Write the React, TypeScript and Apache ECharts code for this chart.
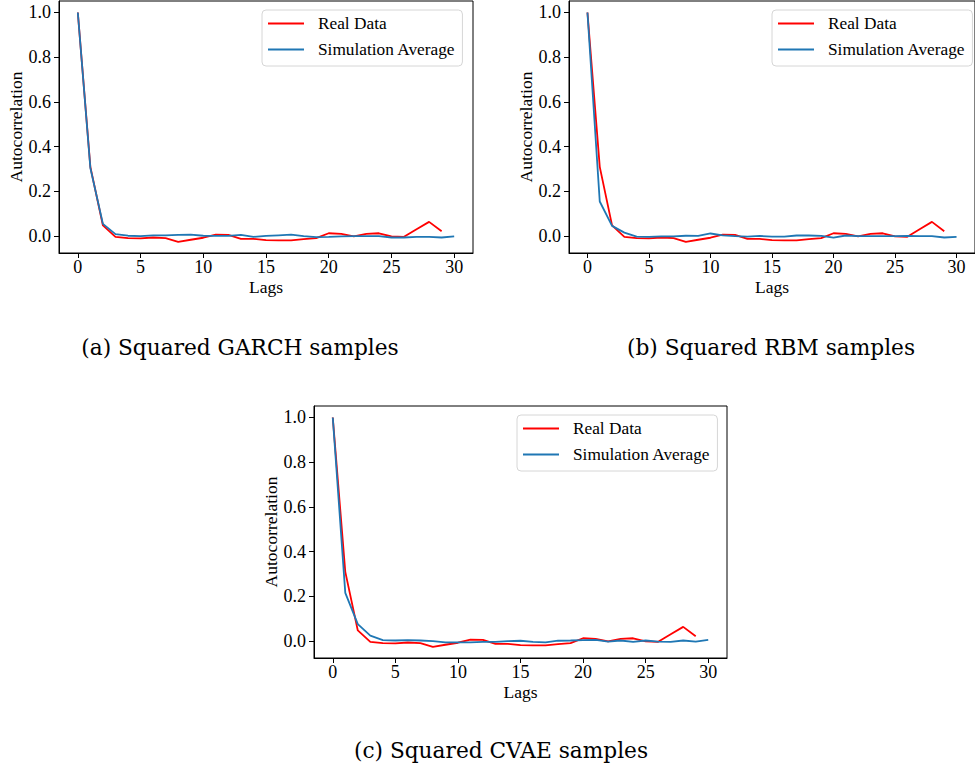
import React, { useEffect, useRef } from "react";
import * as echarts from "echarts";

const lags = [0, 1, 2, 3, 4, 5, 6, 7, 8, 9, 10, 11, 12, 13, 14, 15, 16, 17, 18, 19, 20, 21, 22, 23, 24, 25, 26, 27, 28, 29, 30];
const xTicks = [0, 5, 10, 15, 20, 25, 30];
const yTicks = [0, 0.2, 0.4, 0.6, 0.8, 1.0];

const realData = [1.0, 0.31, 0.048, -0.003, -0.009, -0.010, -0.006, -0.009, -0.025, -0.016, -0.007, 0.007, 0.006, -0.012, -0.012, -0.018, -0.019, -0.019, -0.013, -0.009, 0.013, 0.010, -0.001, 0.010, 0.013, -0.001, -0.003, 0.031, 0.064, 0.022];
const garchSim = [1.0, 0.305, 0.055, 0.009, 0.002, 0.0, 0.004, 0.004, 0.006, 0.007, 0.002, 0.001, 0.001, 0.006, -0.003, 0.001, 0.004, 0.007, 0.0, -0.004, -0.003, -0.001, 0.0, 0.0, 0.0, -0.006, -0.006, -0.003, -0.003, -0.006, -0.001];
const rbmSim = [1.0, 0.155, 0.046, 0.016, -0.002, -0.003, -0.001, -0.001, 0.002, 0.001, 0.012, 0.004, 0.0, -0.002, 0.001, -0.002, -0.002, 0.003, 0.003, 0.001, -0.006, 0.003, 0.0, 0.0, 0.0, 0.0, 0.001, 0.0, 0.0, -0.006, -0.003];
const cvaeSim = [1.0, 0.216, 0.076, 0.025, 0.005, 0.003, 0.005, 0.003, 0.0, -0.005, -0.005, -0.005, -0.003, -0.003, 0.0, 0.002, -0.003, -0.005, 0.002, 0.003, 0.005, 0.006, -0.002, 0.003, -0.003, 0.003, -0.002, -0.003, 0.003, -0.002, 0.006];

const seriesNames = ["Real Data", "Simulation Average"];
const captions = ["(a) Squared GARCH samples", "(b) Squared RBM samples", "(c) Squared CVAE samples"];
const sims = [garchSim, rbmSim, cvaeSim];

const FONT = "Liberation Serif";

export default function App() {
  const ref = useRef<HTMLDivElement>(null);
  useEffect(() => {
    document.body.style.margin = "0";
    document.body.style.overflow = "hidden";
    const chart = echarts.init(ref.current!, null, { renderer: "svg" });

    const layouts = [
      { grid: { left: 59, top: 1, width: 414, height: 252 }, legend: { left: 262, top: 10 }, cap: { x: 240, y: 347 } },
      { grid: { left: 569, top: 1, width: 414, height: 252 }, legend: { left: 772, top: 10 }, cap: { x: 771, y: 347 } },
      { grid: { left: 314, top: 406, width: 413, height: 252 }, legend: { left: 517, top: 415 }, cap: { x: 501, y: 750 } },
    ];

    const grids: any[] = [];
    const xAxes: any[] = [];
    const yAxes: any[] = [];
    const series: any[] = [];
    const legends: any[] = [];
    const graphics: any[] = [];

    layouts.forEach((L, i) => {
      grids.push({
        ...L.grid,
        show: true,
        borderColor: "#000",
        borderWidth: 1,
        backgroundColor: "transparent",
        containLabel: false,
      });
      xAxes.push({
        type: "value",
        gridIndex: i,
        min: -1.5,
        max: 31.5,
        name: "Lags",
        nameLocation: "middle",
        nameGap: 25,
        nameTextStyle: { fontFamily: FONT, fontSize: 17.5, color: "#000" },
        axisLine: { show: true, onZero: false, lineStyle: { color: "#000", width: 1 } },
        axisTick: { show: true, inside: false, length: 5, lineStyle: { color: "#000" }, customValues: xTicks },
        axisLabel: { fontFamily: FONT, fontSize: 18, color: "#000", margin: 5, customValues: xTicks },
        splitLine: { show: false },
      });
      yAxes.push({
        type: "value",
        gridIndex: i,
        min: -0.0752,
        max: 1.0512,
        name: "Autocorrelation",
        nameLocation: "middle",
        nameGap: 34,
        nameTextStyle: { fontFamily: FONT, fontSize: 17.5, color: "#000" },
        axisLine: { show: true, onZero: false, lineStyle: { color: "#000", width: 1 } },
        axisTick: { show: true, inside: false, length: 5, lineStyle: { color: "#000" }, customValues: yTicks },
        axisLabel: {
          fontFamily: FONT,
          fontSize: 18,
          color: "#000",
          margin: 8,
          customValues: yTicks,
          formatter: (v: number) => v.toFixed(1),
        },
        splitLine: { show: false },
      });
      series.push({
        type: "line",
        name: seriesNames[0],
        xAxisIndex: i,
        yAxisIndex: i,
        data: realData.map((v, k) => [lags[k], v]),
        symbol: "none",
        lineStyle: { color: "#ff0000", width: 1.8 },
        itemStyle: { color: "#ff0000" },
        z: 2,
      });
      series.push({
        type: "line",
        name: seriesNames[1],
        xAxisIndex: i,
        yAxisIndex: i,
        data: sims[i].map((v, k) => [lags[k], v]),
        symbol: "none",
        lineStyle: { color: "#1f77b4", width: 1.8 },
        itemStyle: { color: "#1f77b4" },
        z: 3,
      });
      legends.push({
        data: seriesNames,
        orient: "vertical",
        left: L.legend.left,
        top: L.legend.top,
        icon: "rect",
        itemWidth: 36,
        itemHeight: 2,
        itemGap: 9,
        padding: [5, 7, 8, 6],
        selectedMode: false,
        backgroundColor: "rgba(255,255,255,0.8)",
        borderColor: "#d6d6d6",
        borderWidth: 1,
        borderRadius: 4,
        textStyle: { fontFamily: FONT, fontSize: 17.3, color: "#000", lineHeight: 16, padding: [0, 0, 0, 9] },
      });
      graphics.push({
        type: "text",
        x: L.cap.x,
        y: L.cap.y,
        style: {
          text: captions[i],
          font: "21.7px 'DejaVu Serif'",
          fill: "#000",
          textAlign: "center",
          textVerticalAlign: "middle",
        },
      });
    });

    chart.setOption({
      animation: false,
      backgroundColor: "#fff",
      grid: grids,
      xAxis: xAxes,
      yAxis: yAxes,
      legend: legends,
      series,
      graphic: graphics,
    });
    return () => chart.dispose();
  }, []);
  return <div ref={ref} style={{ width: 975, height: 767 }} />;
}
